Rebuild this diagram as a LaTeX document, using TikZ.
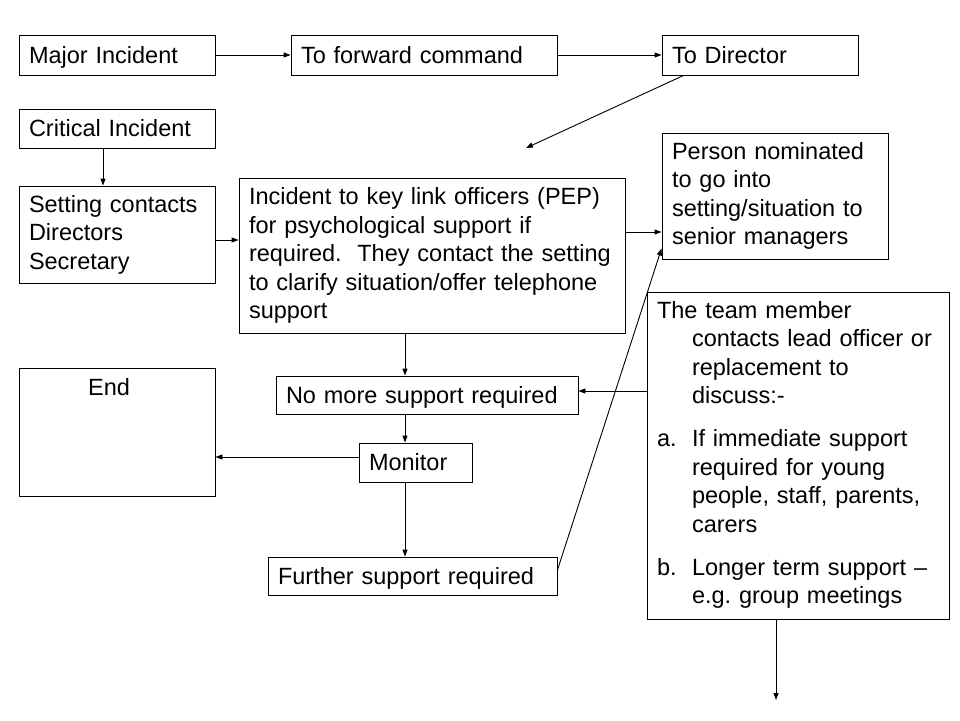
\documentclass[tikz,border=0pt]{standalone}
\usepackage{fontspec}
\setmainfont{Liberation Sans}
\usetikzlibrary{arrows.meta}
\begin{document}
\frenchspacing
\begin{tikzpicture}[x=1pt,y=-1pt,
  box/.style={draw, line width=0.9pt, inner xsep=10pt, inner ysep=0pt,
    align=left, font=\fontsize{23.5}{28.5}\selectfont},
  one/.style={box, text height=19pt, text depth=2.6pt},
  arr/.style={line width=0.9pt, -{Triangle[length=7pt,width=5pt]}},
  lbl/.style={font=\fontsize{23.5}{28.5}\selectfont, inner sep=0pt}]
\fill[white] (0,0) rectangle (960,720);
\useasboundingbox (0,0) rectangle (960,720);
% boxes
\node[one, minimum width=196pt, text width=176pt, minimum height=40pt] (major) at (117,55) {Major Incident};
\node[one, minimum width=266pt, text width=246pt, minimum height=40pt] (fwd) at (424,55) {To forward command};
\node[one, minimum width=196pt, text width=176pt, minimum height=40pt] (dir) at (760,55) {To Director};
\node[one, minimum width=196pt, text width=176pt, minimum height=39pt] (crit) at (117,128.5) {Critical Incident};
\node[box, minimum width=196pt, text width=176pt, minimum height=97pt] (set) at (117,234.5) {Setting contacts\\Directors\\Secretary};
\node[box, minimum width=386pt, text width=366pt, minimum height=155pt] (inc) at (432,255.5) {Incident to key link officers (PEP)\\for psychological support if\\required.\ \ They contact the setting\\to clarify situation/offer telephone\\support};
\node[box, minimum width=226pt, text width=206pt, minimum height=126pt] (per) at (775,196) {Person nominated\\to go into\\setting/situation to\\senior managers};
\node[box, minimum width=302pt, text width=282pt, minimum height=327pt] (team) at (798,455.5) {%
\begin{tabular}{@{}p{35pt}@{}l@{}}
\multicolumn{2}{@{}l@{}}{The team member}\\
 & contacts lead officer or\\
 & replacement to\\
 & discuss:-\\[14.5pt]
a. & If immediate support\\
 & required for young\\
 & people, staff, parents,\\
 & carers\\[14.5pt]
b. & Longer term support –\\
 & e.g. group meetings
\end{tabular}};
\node[box, minimum width=196pt, minimum height=128pt] (end) at (117,432) {};
\node[lbl, anchor=base west] (endtxt) at (88,395.5) {End};
\node[one, minimum width=302pt, text width=282pt, minimum height=38pt] (nom) at (427,395) {No more support required};
\node[one, minimum width=113pt, text width=93pt, minimum height=39pt] (mon) at (415.5,462.5) {Monitor};
\node[one, minimum width=289pt, text width=269pt, minimum height=38pt] (fur) at (412.5,576) {Further support required};
% helper coordinates
\coordinate (dend) at (526,148);
\coordinate (vx) at (405,0);
\coordinate (ip) at (0,232);
\coordinate (me) at (0,457);
\coordinate (tn) at (0,391);
\coordinate (tend) at (776,700);
% connectors
\draw[arr] (major.east) -- (fwd.west);
\draw[arr] (fwd.east) -- (dir.west);
\draw[arr] ([xshift=22pt]dir.south west) -- (dend);
\draw[arr] ([xshift=-14pt]crit.south) -- ([xshift=-14pt]crit.south |- set.north);
\draw[arr] ([yshift=-5.5pt]set.east) -- ([yshift=-5.5pt]set.east -| inc.west);
\draw[arr] (inc.east |- ip) -- (per.west |- ip);
\draw[arr] ([yshift=6pt]fur.east) -- ([yshift=11pt]per.south west);
\draw[arr] (inc.south -| vx) -- (nom.north -| vx);
\draw[arr] (nom.south -| vx) -- (mon.north -| vx);
\draw[arr] (mon.south -| vx) -- (fur.north -| vx);
\draw[arr] (mon.west |- me) -- (end.east |- me);
\draw[arr] (team.west |- tn) -- (nom.east |- tn);
\draw[arr] (team.south -| tend) -- (tend);
\end{tikzpicture}
\end{document}
